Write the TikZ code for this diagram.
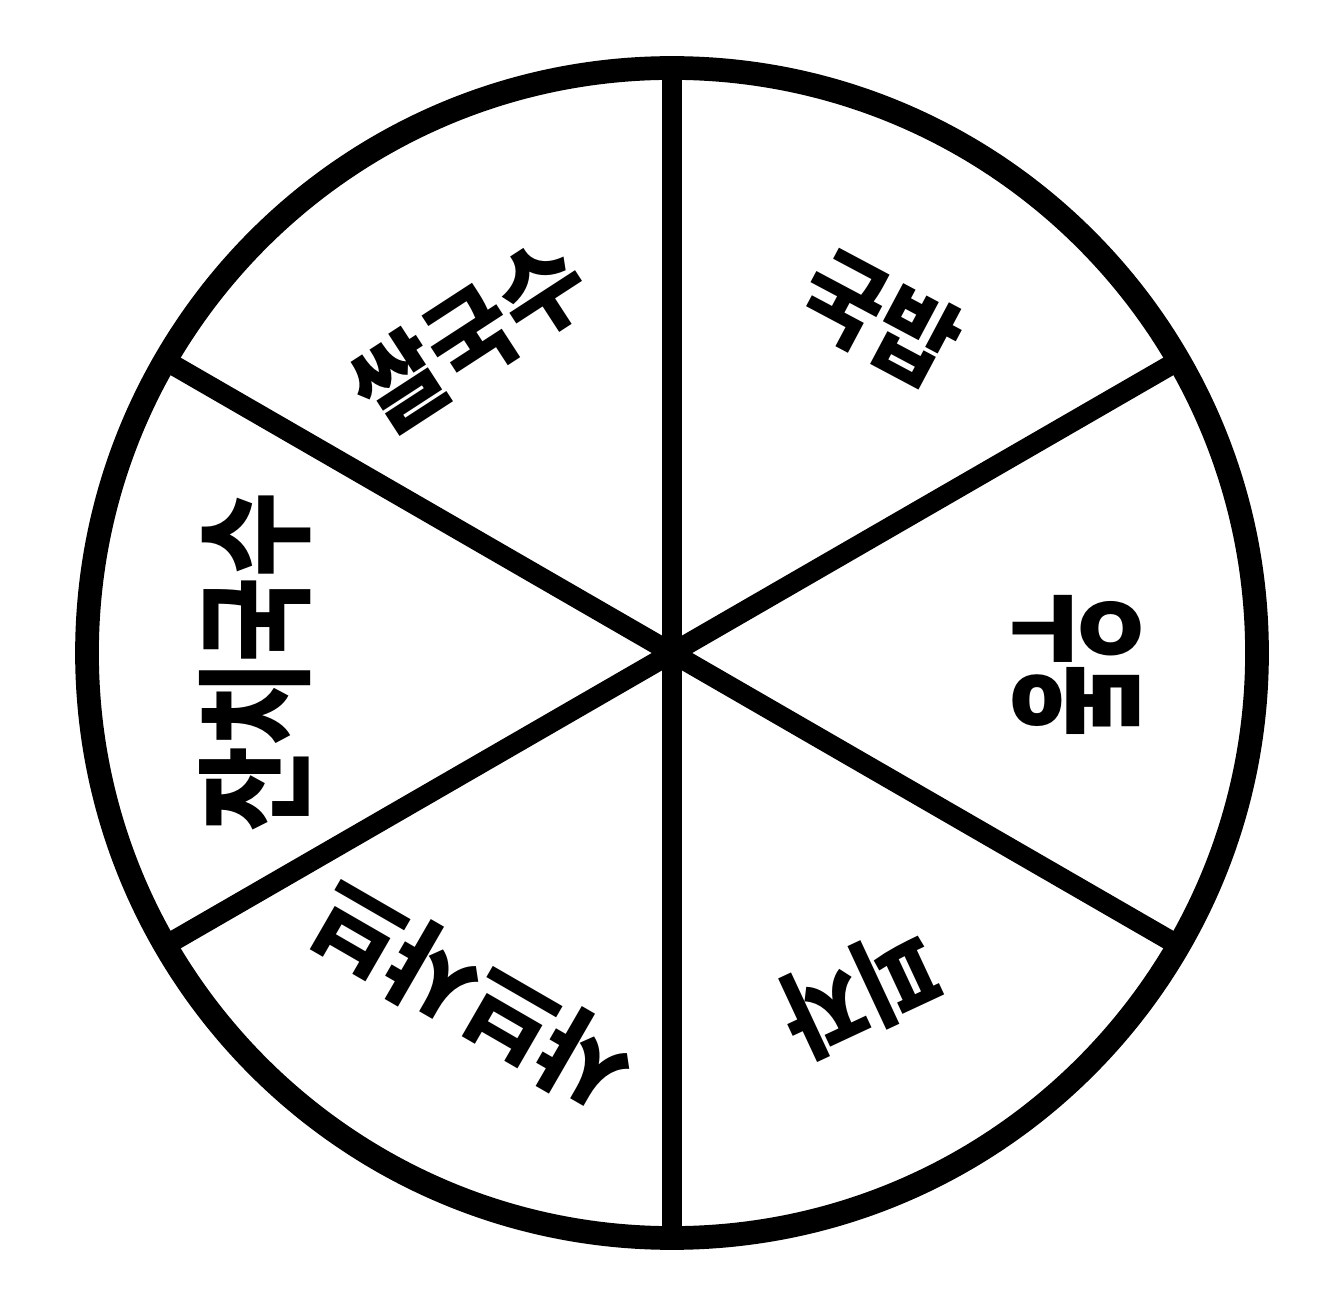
\documentclass[tikz,border=0pt]{standalone}
\usepackage{fontspec}
\usetikzlibrary{calc}
\newfontfamily\kr{Noto Sans CJK KR}
\begin{document}
\begin{tikzpicture}[x=0.02cm,y=0.02cm,
  rim/.style={line width=13.5pt},
  spoke/.style={line width=11.5pt},
  lbl/.style={font=\kr\bfseries\fontsize{50}{60}\selectfont, inner sep=0pt}]
\useasboundingbox[fill=white] (0,0) rectangle (1334,1302);
\coordinate (c) at (672,649);
\draw[rim] (c) circle [radius=585];
\foreach \a/\n in {90/t,30/ur,-30/lr,-90/b,210/ll,150/ul}{
  \coordinate (\n) at ($(c)+(\a:585)$);
}
\foreach \n in {t,ur,lr,b,ll,ul}{
  \draw[spoke] (c) -- (\n);
}
\node[lbl, rotate=-28, yscale=1.12] (gukbap) at (880,984) {국밥};
\node[lbl, rotate=-90, xscale=0.9, yscale=1.6] (udon) at (1077,637) {우동};
\node[lbl, rotate=205, yscale=1.12] (pizza) at (860,310) {피자};
\node[lbl, rotate=150, xscale=1.08, yscale=1.12] (shabu) at (472,306) {샤브샤브};
\node[lbl, rotate=90, xscale=1.05, yscale=1.35] (janchi) at (255,640) {잔치국수};
\node[lbl, rotate=33, xscale=1.05, yscale=1.12] (ssal) at (470,966) {쌀국수};
\end{tikzpicture}
\end{document}
